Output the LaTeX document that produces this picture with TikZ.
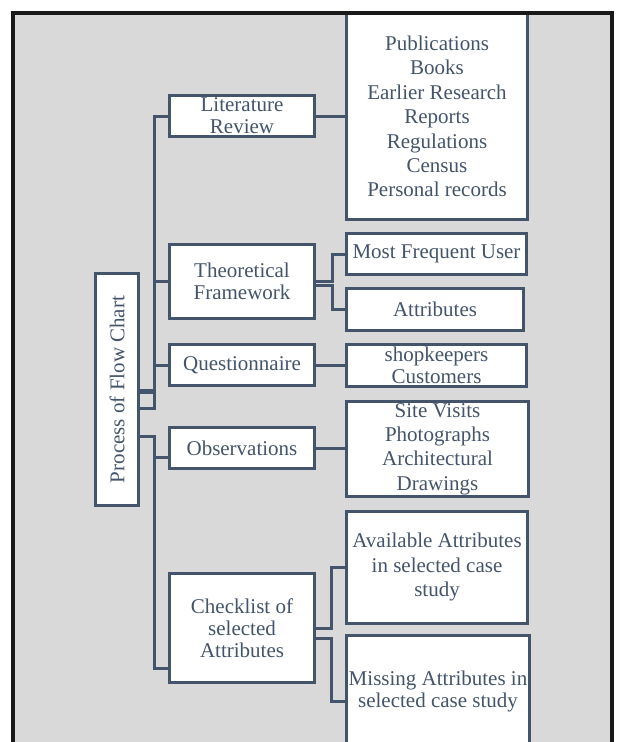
\documentclass[tikz,border=0pt]{standalone}
\usepackage{fontspec}
\setmainfont{Liberation Serif}
\definecolor{slate}{HTML}{44546A}
\definecolor{panel}{HTML}{D9D9D9}

\begin{document}
\begin{tikzpicture}[x=1pt,y=-1pt,
  box/.style={draw=slate,fill=white,line width=3pt,text=slate,align=center,
    inner sep=0pt,font=\fontsize{21}{22}\selectfont},
  tall/.style={font=\fontsize{21}{24.4}\selectfont},
  link/.style={draw=slate,line width=3pt}]
\useasboundingbox (0,0) rectangle (617,742);
\fill[panel] (13,12.5) rectangle (611.5,742);
\begin{scope}
\clip (15,15.5) rectangle (610,742);
\node[box,rotate=90,minimum width=232pt,minimum height=43pt] (proc)
  at (117,389.5) {Process of Flow Chart};
\node[box,minimum width=145pt,minimum height=41pt] (lit) at (242,116)
  {Literature\\Review};
\node[box,minimum width=145pt,minimum height=74pt] (theo) at (242,281.5)
  {Theoretical\\Framework};
\node[box,minimum width=145pt,minimum height=41pt] (quest) at (242,365)
  {Questionnaire};
\node[box,minimum width=145pt,minimum height=41pt] (obs) at (242,448)
  {Observations};
\node[box,minimum width=145pt,minimum height=109pt] (check) at (242,628)
  {Checklist of\\selected\\Attributes};
\node[box,tall,minimum width=181pt,minimum height=206pt] (pub) at (437,116.5)
  {Publications\\Books\\Earlier Research\\Reports\\Regulations\\Census\\Personal records};
\node[box,minimum width=180pt,minimum height=41pt] (mfu) at (436.5,254)
  {Most Frequent User};
\node[box,minimum width=177pt,minimum height=42pt] (attr) at (435,309.5)
  {Attributes};
\node[box,minimum width=180pt,minimum height=42pt] (shop) at (436.5,365.5)
  {shopkeepers\\Customers};
\node[box,tall,minimum width=182pt,minimum height=95pt] (site) at (437.5,449)
  {Site Visits\\Photographs\\Architectural\\Drawings};
\node[box,tall,minimum width=181pt,minimum height=112pt] (avail) at (437,567)
  {Available Attributes\\in selected case\\study};
\node[box,minimum width=183pt,minimum height=111pt] (miss) at (438,691)
  {Missing Attributes in\\selected case study};
% trunk
\draw[link] ([yshift=-0.5pt]proc.south) -| ([xshift=-13.5pt]lit.west) -- (lit.west);
\draw[link] ([yshift=-2.5pt]proc.south) -| ([xshift=-13.5pt]theo.west) -- (theo.west);
\draw[link] ([yshift=-18.5pt]proc.south) -| ([xshift=-13.5pt]quest.west) -- (quest.west);
\draw[link] ([yshift=-46.5pt]proc.south) -| ([xshift=-13.5pt,yshift=-9pt]obs.west)
  -- ([yshift=-9pt]obs.west);
\draw[link] ([yshift=-46.5pt]proc.south) -| ([xshift=-13.5pt,yshift=-40pt]check.west)
  -- ([yshift=-40pt]check.west);
% branches
\draw[link] (lit.east) -- (lit.east -| pub.west);
\draw[link] (theo.east) -| ([xshift=-13pt]mfu.west) -- (mfu.west);
\draw[link] ([yshift=-4pt]theo.east) -| ([xshift=-13pt]attr.west) -- (attr.west);
\draw[link] (quest.east) -- (quest.east -| shop.west);
\draw[link] (obs.east) -- (obs.east -| site.west);
\draw[link] (check.east) -| ([xshift=-14pt]avail.west) -- (avail.west);
\draw[link] ([yshift=-10pt]check.east) -| ([xshift=-14pt,yshift=-10pt]miss.west)
  -- ([yshift=-10pt]miss.west);
\end{scope}
\draw[line width=4pt,black!90] (13,742) -- (13,12.5) -- (611.5,12.5) -- (611.5,742);
\end{tikzpicture}
\end{document}
